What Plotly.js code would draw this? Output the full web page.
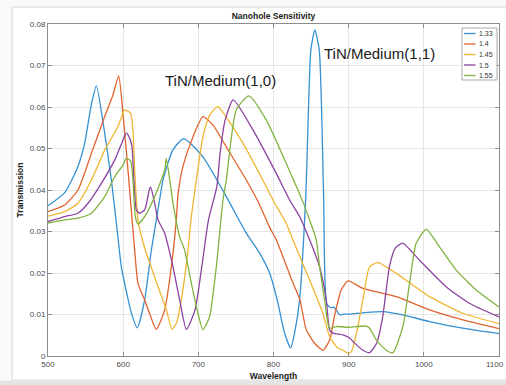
<!DOCTYPE html>
<html>
<head>
<meta charset="utf-8">
<script src="https://cdn.plot.ly/plotly-3.0.1.min.js"></script>
<style>
  html, body { margin: 0; padding: 0; background: #ffffff; }
  #chart { width: 506px; height: 385px; }
</style>
</head>
<body>
<div id="chart"></div>
<script>
// Refractive index of the surrounding medium for each spectrum
const seriesNames = ['1.33', '1.4', '1.45', '1.5', '1.55'];
const seriesColors = ['#3590d2', '#e0642f', '#efb633', '#8c43a0', '#80b43e'];

// Transmission spectra (wavelength in nm, transmission)
const wl133 = [500, 522, 539.5, 548.8, 558, 564.4, 575.4, 584.3, 593, 597.6, 610.9, 618.9, 628.6, 637.5, 648.5, 652.9, 666, 680.5, 706.1, 737.2, 763.8, 781.5, 794.8, 805, 814, 822.8, 828, 834.7, 843.1, 849.7, 855, 860.9, 866.6, 871, 876.9, 880, 883.5, 887.9, 895, 901.2, 918.9, 945.5, 972.1, 1007.6, 1051.5, 1100];
const tr133 = [0.0362, 0.0393, 0.0455, 0.0513, 0.0609, 0.0651, 0.0537, 0.0424, 0.0287, 0.0215, 0.0104, 0.0068, 0.0135, 0.0255, 0.0376, 0.0424, 0.0496, 0.0524, 0.0480, 0.0384, 0.0296, 0.0248, 0.0200, 0.0135, 0.0060, 0.0019, 0.0055, 0.0135, 0.0393, 0.0737, 0.0786, 0.0737, 0.0393, 0.0125, 0.0116, 0.0118, 0.0111, 0.0099, 0.0101, 0.0101, 0.0104, 0.0107, 0.0099, 0.0083, 0.0067, 0.0054];

const wl140 = [500, 522.2, 539.9, 557.7, 575.4, 586.4, 594, 599.7, 606.4, 613, 615.3, 619.7, 628.6, 636, 644.1, 655.2, 664.1, 670.7, 673, 680, 692.8, 706.1, 720, 737.2, 763.8, 780, 794.8, 803.7, 824.3, 835.2, 843.6, 855, 866, 875, 881, 890, 899, 918.9, 963.3, 1007.6, 1051.9, 1100];
const tr140 = [0.0348, 0.0364, 0.0400, 0.0488, 0.0577, 0.0629, 0.0675, 0.0585, 0.0448, 0.0304, 0.0255, 0.0175, 0.0135, 0.0098, 0.0064, 0.0111, 0.0215, 0.0328, 0.0390, 0.0460, 0.0528, 0.0577, 0.0555, 0.0504, 0.0424, 0.0370, 0.0310, 0.0280, 0.0183, 0.0135, 0.0063, 0.0030, 0.0014, 0.0040, 0.0095, 0.0159, 0.0181, 0.0163, 0.0143, 0.0111, 0.0087, 0.0066];

const wl145 = [500, 522.2, 539.9, 557.7, 575.4, 593.1, 602, 606, 610, 613, 615.3, 619.7, 627, 646.4, 657.5, 665, 671, 677.4, 686.2, 690.7, 697.4, 706.1, 715, 726, 740, 759.3, 790.3, 799.2, 816.9, 825.8, 848, 865.7, 874.6, 885, 892.3, 899, 903.5, 911, 918.9, 927.8, 938.9, 963.3, 1007.6, 1051.9, 1100];
const tr145 = [0.0337, 0.0348, 0.0368, 0.0424, 0.0496, 0.0553, 0.0593, 0.0590, 0.0585, 0.0545, 0.0448, 0.0328, 0.0270, 0.0167, 0.0111, 0.0064, 0.0080, 0.0135, 0.0255, 0.0336, 0.0424, 0.0528, 0.0580, 0.0601, 0.0568, 0.0513, 0.0408, 0.0376, 0.0320, 0.0280, 0.0183, 0.0103, 0.0047, 0.0020, 0.0014, 0.0007, 0.0010, 0.0060, 0.0135, 0.0215, 0.0225, 0.0199, 0.0143, 0.0103, 0.0078];

const wl150 = [500, 522.2, 539.9, 553.3, 571, 588.7, 599.7, 604.2, 608.6, 611.7, 614.3, 617.5, 621.9, 628.6, 635.3, 636.6, 641.9, 646.4, 655.2, 666.3, 675.2, 684.1, 695.6, 704.6, 713.5, 724.6, 728.9, 735.7, 746.4, 772.6, 803.7, 821.4, 834.7, 848, 861.3, 870.2, 874.6, 879, 892.3, 900, 908, 918, 927.6, 937, 945.3, 954.2, 962, 971.9, 994.1, 1029.5, 1060.5, 1100];
const tr150 = [0.0324, 0.0336, 0.0344, 0.0368, 0.0416, 0.0472, 0.0520, 0.0537, 0.0525, 0.0504, 0.0424, 0.0352, 0.0344, 0.0352, 0.0404, 0.0407, 0.0368, 0.0328, 0.0296, 0.0215, 0.0135, 0.0064, 0.0111, 0.0215, 0.0328, 0.0408, 0.0488, 0.0569, 0.0617, 0.0545, 0.0440, 0.0376, 0.0336, 0.0280, 0.0215, 0.0135, 0.0063, 0.0055, 0.0051, 0.0045, 0.0031, 0.0015, 0.0008, 0.0030, 0.0095, 0.0215, 0.0260, 0.0272, 0.0231, 0.0167, 0.0127, 0.0094];

const wl155 = [500, 522.2, 539.9, 557.7, 575.4, 588.7, 599.7, 604.2, 609.9, 613, 616.2, 619.7, 628.6, 641.9, 655.2, 657.4, 666.3, 675.2, 681.8, 690.7, 699.5, 706.1, 715, 723.9, 732.8, 737.2, 750.4, 767.2, 790.3, 816.9, 839, 848, 856.9, 861.3, 868, 872.3, 874.6, 883.5, 901.2, 910.1, 923.4, 927.8, 936.7, 950, 958.9, 972.1, 981, 989.9, 1003.2, 1020.9, 1043.1, 1069.7, 1100];
const tr155 = [0.0320, 0.0328, 0.0332, 0.0344, 0.0384, 0.0432, 0.0460, 0.0476, 0.0470, 0.0424, 0.0336, 0.0318, 0.0336, 0.0384, 0.0448, 0.0476, 0.0368, 0.0287, 0.0255, 0.0175, 0.0103, 0.0063, 0.0095, 0.0215, 0.0376, 0.0424, 0.0593, 0.0627, 0.0569, 0.0464, 0.0372, 0.0328, 0.0280, 0.0215, 0.0135, 0.0079, 0.0067, 0.0071, 0.0069, 0.0071, 0.0072, 0.0067, 0.0039, 0.0014, 0.0008, 0.0071, 0.0175, 0.0272, 0.0305, 0.0263, 0.0207, 0.0159, 0.0118];

// Axis ticks
const xTicks = [500, 600, 700, 800, 900, 1000, 1100];
const xTickText = ['500', '600', '700', '800', '900', '1000', '1100'];
const yTicks = [0, 0.01, 0.02, 0.03, 0.04, 0.05, 0.06, 0.07, 0.08];
const yTickText = ['0', '0.01', '0.02', '0.03', '0.04', '0.05', '0.06', '0.07', '0.08'];

// Mode labels placed on the plot
const modeLabels = ['TiN/Medium(1,0)', 'TiN/Medium(1,1)'];
const modeLabelPos = [[729, 0.0665], [941, 0.0728]];

const xs = [wl133, wl140, wl145, wl150, wl155];
const ys = [tr133, tr140, tr145, tr150, tr155];

const W = 506, H = 385;
const M = { l: 48, r: 7, t: 24, b: 29 };
const PW = W - M.l - M.r, PH = H - M.t - M.b;
const px = x => (x - M.l) / PW;           // page x -> paper x
const py = y => (H - M.b - y) / PH;       // page y -> paper y

const traces = seriesNames.map((name, i) => ({
  type: 'scatter',
  mode: 'lines',
  name: name,
  x: xs[i],
  y: ys[i],
  line: { color: seriesColors[i], width: 1.3, shape: 'spline', smoothing: 0.55 },
  hoverinfo: 'skip',
  showlegend: false
}));

const font = 'Liberation Sans, Arial, Helvetica, sans-serif';
const tickFont = { family: font, size: 8, color: '#4a4a4a' };
const shapes = [
  // figure frame
  { type: 'rect', xref: 'paper', yref: 'paper', layer: 'below',
    x0: px(12), x1: px(507), y0: py(380), y1: py(7),
    fillcolor: '#ffffff', line: { color: '#d6d6d6', width: 1 } },
  { type: 'rect', xref: 'paper', yref: 'paper', layer: 'below',
    x0: px(-2), x1: px(508), y0: py(386), y1: py(380.5),
    fillcolor: '#e4e4e4', line: { width: 0 } },
  // legend box
  { type: 'rect', xref: 'paper', yref: 'paper', layer: 'above',
    x0: px(462), x1: px(497), y0: py(80), y1: py(28),
    fillcolor: '#ffffff', line: { color: '#a8a8a8', width: 1 } }
];
const annotations = [];
seriesNames.forEach((name, i) => {
  const yy = 33.5 + i * 10.5;
  shapes.push({ type: 'line', xref: 'paper', yref: 'paper', layer: 'above',
    x0: px(464), x1: px(475.5), y0: py(yy), y1: py(yy),
    line: { color: seriesColors[i], width: 1.3 } });
  annotations.push({ xref: 'paper', yref: 'paper', x: px(476.5), y: py(yy),
    xanchor: 'left', yanchor: 'middle', showarrow: false, text: name,
    font: { family: font, size: 7, color: '#333333' } });
});
modeLabels.forEach((t, i) => {
  annotations.push({ xref: 'x', yref: 'y', x: modeLabelPos[i][0], y: modeLabelPos[i][1],
    xanchor: 'center', yanchor: 'middle', showarrow: false, text: t,
    font: { family: font, size: 15, color: '#1a1a1a' } });
});
// last x tick label sits at the right page edge: keep it inside the page
const lastTick = xTicks.length - 1;
annotations.push({ xref: 'paper', yref: 'paper', x: px(505.5), y: py(364.5),
  xanchor: 'right', yanchor: 'middle', showarrow: false, text: xTickText[lastTick],
  font: tickFont });
const xTickShown = xTickText.map((t, i) => (i === lastTick ? '' : t));

const axisCommon = {
  showline: true, linecolor: '#8c8c8c', linewidth: 1, mirror: 'ticks',
  ticks: 'inside', ticklen: 4, tickcolor: '#8c8c8c', tickwidth: 1,
  showgrid: true, gridcolor: '#e6e6e6', gridwidth: 1,
  zeroline: false, fixedrange: true,
  tickfont: tickFont
};

const layout = {
  width: W, height: H,
  margin: M,
  paper_bgcolor: '#fafafa',
  plot_bgcolor: '#ffffff',
  showlegend: false,
  title: { text: '<b>Nanohole Sensitivity</b>', x: 0.5, xref: 'paper', xanchor: 'center',
           y: 1 - 16.5 / H, yref: 'container', yanchor: 'middle',
           font: { family: font, size: 8.5, color: '#1a1a1a' } },
  xaxis: Object.assign({}, axisCommon, {
    range: [500, 1100], tickvals: xTicks, ticktext: xTickShown,
    title: { text: '<b>Wavelength</b>', standoff: 5, font: { family: font, size: 8.5, color: '#1a1a1a' } }
  }),
  yaxis: Object.assign({}, axisCommon, {
    range: [0, 0.08], tickvals: yTicks, ticktext: yTickText,
    title: { text: '<b>Transmission</b>', standoff: 4, font: { family: font, size: 8.5, color: '#1a1a1a' } }
  }),
  shapes: shapes,
  annotations: annotations
};

Plotly.newPlot('chart', traces, layout, { displayModeBar: false, staticPlot: true });
</script>
</body>
</html>
